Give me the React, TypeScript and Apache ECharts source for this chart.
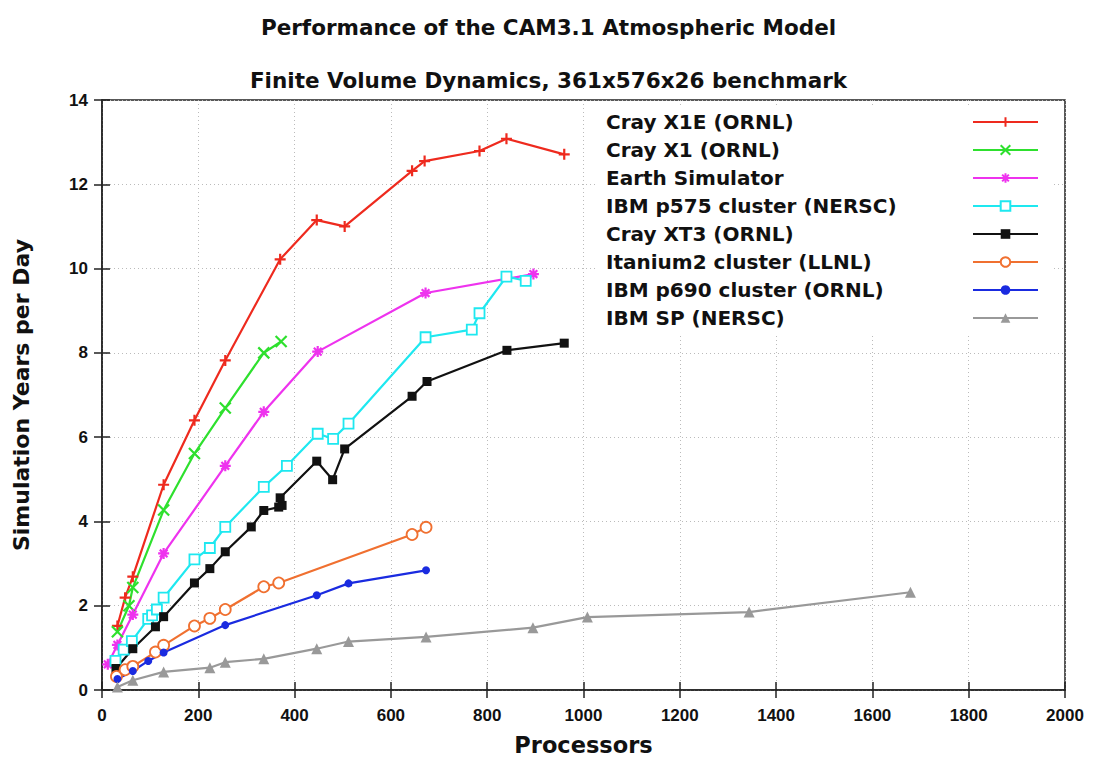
import React, { useEffect, useRef } from "react";
import * as echarts from "echarts";

const titleMain = "Performance of the CAM3.1 Atmospheric Model";
const titleSub = "Finite Volume Dynamics, 361x576x26 benchmark";
const xName = "Processors";
const yName = "Simulation Years per Day";

const names = [
  "Cray X1E (ORNL)",
  "Cray X1 (ORNL)",
  "Earth Simulator",
  "IBM p575 cluster (NERSC)",
  "Cray XT3 (ORNL)",
  "Itanium2 cluster (LLNL)",
  "IBM p690 cluster (ORNL)",
  "IBM SP (NERSC)",
];

const x1eP = [32, 48, 64, 128, 192, 256, 370, 446, 504, 644, 670, 784, 840, 960];
const x1eV = [1.52, 2.19, 2.69, 4.87, 6.4, 7.82, 10.22, 11.15, 11.0, 12.32, 12.55, 12.79, 13.08, 12.71];

const x1P = [32, 56, 64, 128, 192, 256, 336, 372];
const x1V = [1.38, 2.0, 2.43, 4.27, 5.61, 6.69, 8.0, 8.27];

const esP = [12, 32, 64, 128, 256, 336, 448, 672, 896];
const esV = [0.61, 1.07, 1.79, 3.24, 5.32, 6.6, 8.03, 9.42, 9.87];

const p575P = [28, 45, 62, 96, 104, 114, 128, 192, 224, 256, 336, 384, 448, 480, 512, 672, 768, 784, 840, 880];
const p575V = [0.69, 0.96, 1.16, 1.69, 1.77, 1.91, 2.19, 3.1, 3.37, 3.87, 4.82, 5.32, 6.08, 5.96, 6.32, 8.37, 8.55, 8.94, 9.81, 9.71];

const xt3P = [29, 64, 111, 128, 192, 224, 256, 310, 336, 367, 374, 370, 446, 479, 504, 644, 675, 841, 960];
const xt3V = [0.51, 0.98, 1.5, 1.74, 2.54, 2.88, 3.28, 3.87, 4.26, 4.34, 4.38, 4.56, 5.43, 4.99, 5.72, 6.97, 7.32, 8.06, 8.23];

const itanP = [30, 48, 64, 111, 128, 192, 224, 256, 336, 367, 644, 673];
const itanV = [0.32, 0.48, 0.56, 0.9, 1.06, 1.52, 1.7, 1.91, 2.45, 2.54, 3.69, 3.86];

const p690P = [32, 64, 96, 128, 256, 446, 512, 673];
const p690V = [0.26, 0.45, 0.69, 0.89, 1.54, 2.25, 2.53, 2.84];

const spP = [32, 64, 128, 224, 256, 336, 446, 512, 673, 895, 1008, 1344, 1679];
const spV = [0.07, 0.23, 0.43, 0.53, 0.66, 0.74, 0.98, 1.15, 1.26, 1.48, 1.73, 1.85, 2.32];

const xTicks = [0, 200, 400, 600, 800, 1000, 1200, 1400, 1600, 1800, 2000];
const yTicks = [0, 2, 4, 6, 8, 10, 12, 14];

const colors = ["#ee2a1e", "#2ee02e", "#ee33ee", "#1ee8f0", "#111111", "#f07030", "#1a2be0", "#999999"];

const plusPath = "path://M0,5L10,5M5,0L5,10";
const crossPath = "path://M0,0L10,10M10,0L0,10";
const starPath = "path://M0,5L10,5M5,0L5,10M1.5,1.5L8.5,8.5M8.5,1.5L1.5,8.5";

const zip = (p: number[], v: number[]) => p.map((x, i) => [x, v[i]]);

export default function App() {
  const ref = useRef<HTMLDivElement>(null);
  useEffect(() => {
    if (!ref.current) return;
    const chart = echarts.init(ref.current, null, { renderer: "svg" });
    const font = "'DejaVu Sans', Verdana, sans-serif";
    const tickFont = "'Liberation Sans', Arial, Helvetica, sans-serif";
    const datasets = [
      zip(x1eP, x1eV), zip(x1P, x1V), zip(esP, esV), zip(p575P, p575V),
      zip(xt3P, xt3V), zip(itanP, itanV), zip(p690P, p690V), zip(spP, spV),
    ];
    const symbols = [plusPath, crossPath, starPath, "rect", "rect", "circle", "circle", "triangle"];
    const sizes = [11, 11, 11, 10, 9, 11, 8, 11];
    const hollow = [false, false, false, true, false, true, false, false];
    const stroked = [true, true, true, false, false, false, false, false];
    const series = datasets.map((d, i) => ({
      type: "line",
      name: names[i],
      data: d,
      symbol: symbols[i],
      symbolSize: sizes[i],
      showAllSymbol: true,
      lineStyle: { color: colors[i], width: 2.2 },
      itemStyle: {
        color: hollow[i] ? "#ffffff" : colors[i],
        borderColor: colors[i],
        borderWidth: stroked[i] ? 2.2 : hollow[i] ? 1.8 : 0,
      },
      emphasis: { disabled: true },
      z: 3,
    }));
    const tickStyle = { inside: true, length: 8, lineStyle: { color: "#222", width: 1.5 } };
    chart.setOption({
      animation: false,
      backgroundColor: "#ffffff",
      title: [
        { text: titleMain, left: "center", top: 11, textStyle: { fontFamily: font, fontSize: 21.5, fontWeight: "bold", color: "#111" } },
        { text: titleSub, left: "center", top: 64, textStyle: { fontFamily: font, fontSize: 21.5, fontWeight: "bold", color: "#111" } },
      ],
      grid: { left: 102, right: 32, top: 100, bottom: 70, show: true, borderColor: "#222", borderWidth: 1.5, backgroundColor: "transparent" },
      legend: {
        orient: "vertical",
        align: "right",
        left: 596,
        top: 108,
        itemWidth: 65,
        itemHeight: 12,
        itemGap: 8,
        padding: [4, 12, 8, 10],
        backgroundColor: "#ffffff",
        data: names,
        formatter: (n: string) => "{a|" + n + "}",
        textStyle: {
          color: "#111",
          rich: { a: { fontFamily: font, fontSize: 20, fontWeight: "bold", color: "#111", width: 362, align: "left", lineHeight: 22 } },
        },
      },
      xAxis: [
        {
          type: "value", min: 0, max: 2000, interval: 200,
          name: xName, nameLocation: "middle", nameGap: 43,
          nameTextStyle: { fontFamily: font, fontSize: 22.5, fontWeight: "bold", color: "#111" },
          axisLine: { show: true, lineStyle: { color: "#222", width: 1.5 } },
          axisTick: tickStyle,
          axisLabel: { fontFamily: tickFont, fontSize: 17, fontWeight: "bold", color: "#111", margin: 17, formatter: (v: number) => (xTicks.includes(v) ? String(v) : "") },
          splitLine: { show: true, lineStyle: { type: [1, 3], color: "#bbbbbb", width: 1 } },
        },
        {
          type: "value", min: 0, max: 2000, interval: 200, position: "top",
          axisLine: { show: false }, axisTick: tickStyle, axisLabel: { show: false }, splitLine: { show: false },
        },
      ],
      yAxis: [
        {
          type: "value", min: 0, max: 14, interval: 2,
          name: yName, nameLocation: "middle", nameGap: 70, nameRotate: 90,
          nameTextStyle: { fontFamily: font, fontSize: 22, fontWeight: "bold", color: "#111" },
          axisLine: { show: true, lineStyle: { color: "#222", width: 1.5 } },
          axisTick: tickStyle,
          axisLabel: { fontFamily: tickFont, fontSize: 17, fontWeight: "bold", color: "#111", margin: 14, formatter: (v: number) => (yTicks.includes(v) ? String(v) : "") },
          splitLine: { show: true, lineStyle: { type: [1, 3], color: "#bbbbbb", width: 1 } },
        },
        {
          type: "value", min: 0, max: 14, interval: 2, position: "right",
          axisLine: { show: false }, axisTick: tickStyle, axisLabel: { show: false }, splitLine: { show: false },
        },
      ],
      series,
    });
    return () => chart.dispose();
  }, []);
  return <div ref={ref} style={{ width: 1097, height: 761, position: "absolute", left: 0, top: 0 }} />;
}
